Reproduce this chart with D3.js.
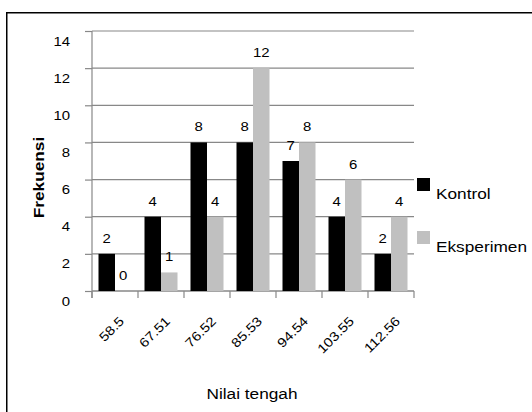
<!DOCTYPE html>
<html>
<head>
<meta charset="utf-8">
<script src="https://cdn.jsdelivr.net/npm/d3@7/dist/d3.min.js"></script>
<style>
  html, body { margin: 0; padding: 0; background: #fff; }
  svg { display: block; }
  text { font-family: "Liberation Sans", Arial, sans-serif; fill: #000; }
</style>
</head>
<body>
<svg id="chart" width="532" height="412"></svg>
<script>
// ---- data ----
const categories = ["58.5", "67.51", "76.52", "85.53", "94.54", "103.55", "112.56"];
const seriesNames = ["Kontrol", "Eksperimen"];
const kontrol = [2, 4, 8, 8, 7, 4, 2];
const eksperimen = [0, 1, 4, 12, 8, 6, 4];
const yTicks = [0, 2, 4, 6, 8, 10, 12, 14];
const yTitle = "Frekuensi";
const xTitle = "Nilai tengah";

// ---- layout / style ----
const colors = { Kontrol: "#000000", Eksperimen: "#c0c0c0" };
const gridColor = "#888888";
const SX = 1.15; // horizontal glyph stretch of the reference rendering
const plot = { left: 92, right: 414, top: 31, bottom: 291 };

const svg = d3.select("#chart");

// chart-area border (extends past right/bottom edges in the reference)
svg.append("rect")
  .attr("x", 6.75).attr("y", 12.75)
  .attr("width", 600).attr("height", 500)
  .attr("fill", "none").attr("stroke", "#000").attr("stroke-width", 1.5);

const x = d3.scaleBand().domain(categories).range([plot.left, plot.right]).paddingInner(0).paddingOuter(0);
const xs = d3.scaleBand().domain(seriesNames).range([0, x.bandwidth()]).paddingInner(0).paddingOuter(0.394);
const y = d3.scaleLinear().domain([0, 14]).range([plot.bottom, plot.top]);

// gridlines
svg.append("g").selectAll("line").data(yTicks).join("line")
  .attr("x1", plot.left).attr("x2", plot.right)
  .attr("y1", d => y(d)).attr("y2", d => y(d))
  .attr("stroke", gridColor).attr("stroke-width", 1.2);

// y axis
const yAxis = svg.append("g")
  .attr("transform", `translate(${plot.left},0)`)
  .call(d3.axisLeft(y).tickValues(yTicks).tickSize(7).tickSizeOuter(0));
yAxis.select(".domain").remove();
yAxis.selectAll(".tick line").attr("stroke", gridColor).attr("stroke-width", 1.2);
yAxis.selectAll(".tick text")
  .attr("x", null).attr("dy", null)
  .attr("transform", `translate(-22,14) scale(${SX},1)`)
  .attr("text-anchor", "end")
  .style("font-size", "13px").style("font-family", "'Liberation Sans', Arial, sans-serif").attr("fill", "#000");
svg.append("line")
  .attr("x1", plot.left).attr("x2", plot.left)
  .attr("y1", plot.top).attr("y2", plot.bottom + 7)
  .attr("stroke", gridColor).attr("stroke-width", 1.2);

// x axis
const xAxis = svg.append("g")
  .attr("transform", `translate(0,${plot.bottom})`)
  .call(d3.axisBottom(x).tickSize(0).tickSizeOuter(0));
xAxis.select(".domain").remove();
xAxis.selectAll(".tick text")
  .attr("y", null).attr("dy", null)
  .attr("transform", `translate(10,31) rotate(-45) scale(${SX},1)`)
  .attr("text-anchor", "end")
  .style("font-size", "13px").style("font-family", "'Liberation Sans', Arial, sans-serif").attr("fill", "#000");
const boundaries = categories.map(c => x(c)).concat([x(categories[categories.length - 1]) + x.bandwidth()]);
svg.append("g").selectAll("line").data(boundaries).join("line")
  .attr("x1", d => d).attr("x2", d => d)
  .attr("y1", plot.bottom).attr("y2", plot.bottom + 7)
  .attr("stroke", gridColor).attr("stroke-width", 1.2);
svg.append("line")
  .attr("x1", plot.left).attr("x2", plot.right)
  .attr("y1", plot.bottom).attr("y2", plot.bottom)
  .attr("stroke", gridColor).attr("stroke-width", 1.2);

// bars
const rows = categories.map((c, i) => ({ cat: c, Kontrol: kontrol[i], Eksperimen: eksperimen[i] }));
const groups = svg.append("g").selectAll("g").data(rows).join("g")
  .attr("transform", d => `translate(${x(d.cat)},0)`);
const cells = groups.selectAll("g").data(d => seriesNames.map(s => ({ s, v: d[s] }))).join("g");
cells.append("rect")
  .attr("x", d => xs(d.s))
  .attr("width", xs.bandwidth())
  .attr("y", d => y(d.v))
  .attr("height", d => y(0) - y(d.v))
  .attr("fill", d => colors[d.s]);
cells.append("text")
  .attr("transform", d => `translate(${xs(d.s) + xs.bandwidth() / 2},${y(d.v) - 11}) scale(${SX},1)`)
  .attr("text-anchor", "middle")
  .style("font-size", "13px")
  .text(d => d.v);

// axis titles
svg.append("text")
  .attr("transform", `translate(44,177.5) rotate(-90) scale(${SX},1)`)
  .attr("text-anchor", "middle")
  .style("font-size", "15px").style("font-weight", "bold")
  .text(yTitle);
svg.append("text")
  .attr("transform", `translate(${(plot.left + plot.right) / 2 - 1},399) scale(${SX},1)`)
  .attr("text-anchor", "middle")
  .style("font-size", "15px")
  .text(xTitle);

// legend
const legend = svg.append("g").selectAll("g").data(seriesNames).join("g")
  .attr("transform", (d, i) => `translate(417,${178 + i * 53})`);
legend.append("rect").attr("width", 13).attr("height", 13).attr("fill", d => colors[d]);
legend.append("text")
  .attr("transform", `translate(19,21) scale(${SX},1)`)
  .style("font-size", "15px")
  .text(d => d);
</script>
</body>
</html>
